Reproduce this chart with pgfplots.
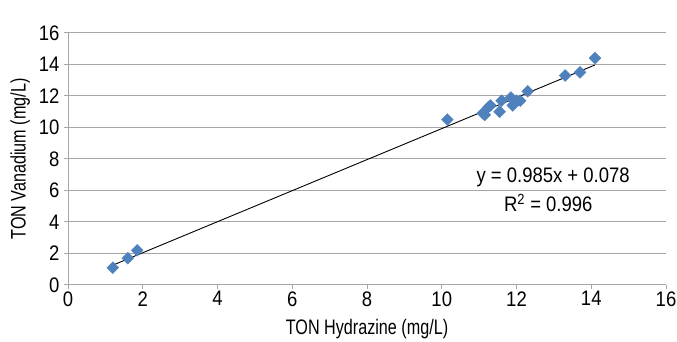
\documentclass[border=0pt]{standalone}
\usepackage{fontspec}
\setmainfont{Liberation Sans}
\newfontfamily\numfont{Liberation Sans}[FakeStretch=0.88]
\newfontfamily\labfont{Liberation Sans}[FakeStretch=0.77]
\usepackage{pgfplots}
\pgfplotsset{compat=1.18}
\definecolor{mk}{HTML}{4F81BD}
\definecolor{gr}{HTML}{A6A6A6}
\begin{document}
\begin{tikzpicture}
\begin{axis}[
  scale only axis, width=598pt, height=252pt,
  xmin=0, xmax=16, ymin=0, ymax=16,
  xtick={0,2,...,16}, ytick={0,2,...,16},
  axis x line*=bottom, axis y line*=left,
  axis line style={gr, line width=1pt},
  ymajorgrids, grid style={gr, line width=1pt},
  tick style={gr, line width=1pt},
  tick align=outside, major tick length=4pt,
  /pgf/number format/assume math mode=true,
  ticklabel style={font=\numfont\fontsize{21}{24}\selectfont},
  xticklabel style={yshift=1pt},
  yticklabel style={xshift=-1pt},
  xlabel={TON Hydrazine (mg/L)}, ylabel={TON Vanadium (mg/L)},
  label style={font=\labfont\fontsize{21}{24}\selectfont},
  xlabel style={yshift=-6pt},
  ylabel style={yshift=2pt},
  clip=false,
]
\addplot[only marks, mark=square*, mark size=4.2pt, mark options={rotate=45, fill=mk, draw=mk}] coordinates {
(1.2,1.1) (1.6,1.7) (1.85,2.2) (10.15,10.5)
(11.1,10.9) (11.15,10.8) (11.25,11.3) (11.3,11.4)
(11.55,11.0) (11.6,11.7) (11.85,11.9) (11.9,11.4)
(12.0,11.7) (12.1,11.7) (12.3,12.3) (13.3,13.3)
(13.7,13.5) (14.1,14.4)
};
\addplot[black, line width=0.9pt] coordinates {(1.2,1.26) (14.1,13.97)};
\node[font=\numfont\fontsize{21}{24}\selectfont] at (axis cs:12.98,6.86) {y = 0.985x + 0.078};
\node[font=\numfont\fontsize{21}{24}\selectfont] at (axis cs:12.85,5.2) {R\textsuperscript{2} = 0.996};
\end{axis}
\path (current axis.south west) ++(-68pt,-57pt) coordinate (bbA);
\path (current axis.north east) ++(11pt,33pt) coordinate (bbB);
\pgfresetboundingbox
\path[use as bounding box] (bbA) rectangle (bbB);
\end{tikzpicture}
\end{document}
